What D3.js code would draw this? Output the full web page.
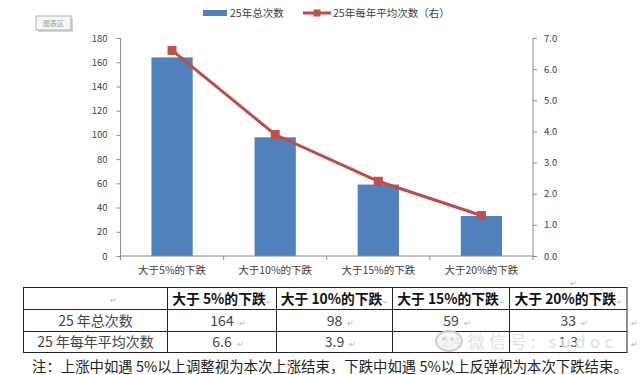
<!DOCTYPE html>
<html><head><meta charset="utf-8">
<script src="https://cdn.jsdelivr.net/npm/d3@7"></script>
<style>
html,body{margin:0;padding:0;background:#fff;}
svg{display:block;}
text{font-family:"Noto Sans CJK SC","Noto Sans",sans-serif;}
</style></head>
<body>
<svg id="c" width="640" height="375"></svg>
<script>
const categories = ["大于5%的下跌","大于10%的下跌","大于15%的下跌","大于20%的下跌"];
const totalCounts = [164, 98, 59, 33];
const yearlyAvg = [6.6, 3.9, 2.4, 1.3];
const leftTicks = [0,20,40,60,80,100,120,140,160,180];
const rightTicks = [0,1,2,3,4,5,6,7];
const seriesNames = ["25年总次数","25年每年平均次数（右）"];
const tableHeaders = ["大于 5%的下跌","大于 10%的下跌","大于 15%的下跌","大于 20%的下跌"];
const rowLabels = ["25 年总次数","25 年每年平均次数"];
const rowTotals = ["164","98","59","33"];
const rowAvgs = ["6.6","3.9","2.4","1.3"];
const note = "注：上涨中如遇 5%以上调整视为本次上涨结束，下跌中如遇 5%以上反弹视为本次下跌结束。";

const svg = d3.select("#c");
const L = 120.5, R = 533, T = 38, B = 256;
const x = d3.scaleBand().domain(categories).range([L, R]).paddingInner(0.6).paddingOuter(0.3);
const yL = d3.scaleLinear().domain([0,180]).range([B, T]);
const yR = d3.scaleLinear().domain([0,7]).range([B, T]);
const axisColor = "#8c8c8c", txt = "#404040";

// chart area tooltip box
const tip = svg.append("g");
tip.append("rect").attr("x",38).attr("y",18).attr("width",35).attr("height",14).attr("fill","#d8d8d8");
tip.append("rect").attr("x",36).attr("y",16).attr("width",35).attr("height",14).attr("fill","#f6f6f6").attr("stroke","#a0a0a0").attr("stroke-width",0.8);
tip.append("text").attr("x",53.5).attr("y",26).attr("text-anchor","middle").attr("font-size",7).attr("fill","#9a9a9a").text("图表区");

// bars
svg.append("g").selectAll("rect").data(categories).join("rect")
  .attr("x", d => x(d)).attr("width", x.bandwidth())
  .attr("y", (d,i) => yL(totalCounts[i])).attr("height", (d,i) => B - yL(totalCounts[i]))
  .attr("fill", "#4f81bd");

// axes
const ga = svg.append("g").attr("transform", `translate(${L},0)`)
  .call(d3.axisLeft(yL).tickValues(leftTicks).tickSize(4).tickPadding(9));
const gb = svg.append("g").attr("transform", `translate(${R},0)`)
  .call(d3.axisRight(yR).tickValues(rightTicks).tickFormat(d3.format(".1f")).tickSize(4).tickPadding(7));
[ga, gb].forEach(g => {
  g.select(".domain").attr("stroke", axisColor).attr("d", `M0,${T}V${B}`);
  g.selectAll(".tick line").attr("stroke", axisColor);
  g.selectAll(".tick text").attr("fill", txt).attr("font-size", 9.5).attr("font-family","'Noto Sans',sans-serif");
});

// category axis
svg.append("line").attr("x1", L).attr("x2", R).attr("y1", B).attr("y2", B).attr("stroke", axisColor);
const bounds = categories.map(c => x(c) - x.step()*x.paddingInner()/2).concat([R]);
svg.append("g").selectAll("line").data(bounds).join("line")
  .attr("x1", d => d).attr("x2", d => d).attr("y1", B).attr("y2", B+4).attr("stroke", axisColor);
svg.append("g").selectAll("text").data(categories).join("text")
  .attr("x", d => x(d) + x.bandwidth()/2).attr("y", 274).attr("text-anchor","middle")
  .attr("font-size", 10.5).attr("fill", txt).text(d => d);

// line series
const cx = d => x(d) + x.bandwidth()/2;
const line = d3.line().x((d,i) => cx(categories[i])).y(d => yR(d));
svg.append("path").datum(yearlyAvg).attr("d", line).attr("fill","none")
  .attr("stroke","#be4b48").attr("stroke-width",3);
svg.append("g").selectAll("rect").data(yearlyAvg).join("rect")
  .attr("x", (d,i) => cx(categories[i]) - 4.5).attr("y", d => yR(d) - 4.5)
  .attr("width", 9).attr("height", 9).attr("fill", "#c0504d");

// legend
const lg = svg.append("g");
lg.append("rect").attr("x",203).attr("y",10).attr("width",24).attr("height",6).attr("fill","#4f81bd");
lg.append("text").attr("x",230).attr("y",17).attr("font-size",10.5).attr("fill",txt).text(seriesNames[0]);
lg.append("line").attr("x1",303).attr("x2",331).attr("y1",13).attr("y2",13).attr("stroke","#be4b48").attr("stroke-width",3);
lg.append("rect").attr("x",313.5).attr("y",9.5).attr("width",7).attr("height",7).attr("fill","#c0504d");
lg.append("text").attr("x",333).attr("y",17).attr("font-size",10.5).attr("fill",txt).text(seriesNames[1]);

// table
const cols = [23.5, 167.5, 276.5, 392.5, 509.5, 627];
const rows = [287.5, 309.5, 331.5, 352.5];
const tb = svg.append("g");
tb.append("rect").attr("x",cols[0]).attr("y",rows[0]).attr("width",cols[5]-cols[0]).attr("height",rows[3]-rows[0])
  .attr("fill","none").attr("stroke","#222").attr("stroke-width",1);
cols.slice(1,5).forEach(c => tb.append("line").attr("x1",c).attr("x2",c).attr("y1",rows[0]).attr("y2",rows[3]).attr("stroke","#222"));
rows.slice(1,3).forEach(r => tb.append("line").attr("x1",cols[0]).attr("x2",cols[5]).attr("y1",r).attr("y2",r).attr("stroke","#222"));
const mark = (xx, yy, fs) => tb.append("text").attr("x",xx).attr("y",yy).attr("font-size",fs || 8).attr("fill","#b0b0b0").text("↵");
const afterText = (t) => { const bb = t.node().getBBox(); return bb.x + bb.width; };
mark(110, 303);
tableHeaders.forEach((h,i) => {
  const mid = (cols[i+1]+cols[i+2])/2;
  const t = tb.append("text").attr("x", mid - 3).attr("y", 304).attr("text-anchor","middle")
    .attr("font-size",13.8).attr("font-weight","bold").attr("fill","#111").text(h);
  const e = Math.min(afterText(t) + 0.5, cols[i+2] - 5);
  mark(e, 304, 6);
});
rowLabels.forEach((lab,j) => {
  const yy = j === 0 ? 326 : 347;
  tb.append("text").attr("x",(cols[0]+cols[1])/2).attr("y",yy).attr("text-anchor","middle")
    .attr("font-size",14).attr("fill","#444").text(lab);
  const vals = j === 0 ? rowTotals : rowAvgs;
  vals.forEach((v,i) => {
    const mid = (cols[i+1]+cols[i+2])/2;
    const t = tb.append("text").attr("x", mid).attr("y", yy).attr("text-anchor","middle")
      .attr("font-size",14).attr("fill","#444").attr("font-family","'Liberation Serif',serif").text(v);
    if (!(j === 1 && i >= 2)) mark(afterText(t) + 5, yy);
  });
  mark(631, yy);
});
mark(570, 286);
tb.append("text").attr("x",32).attr("y",372).attr("font-size",14.4).attr("fill","#222").text(note);

// watermark
const wm = svg.append("g").attr("opacity",0.9);
wm.append("ellipse").attr("cx",449).attr("cy",341).attr("rx",13).attr("ry",10).attr("fill","#f4f4f4").attr("stroke","#c9c9c9").attr("stroke-width",2);
wm.append("circle").attr("cx",444).attr("cy",339).attr("r",1.6).attr("fill","#c9c9c9");
wm.append("circle").attr("cx",452).attr("cy",339).attr("r",1.6).attr("fill","#c9c9c9");
wm.append("text").attr("x",468).attr("y",348).attr("font-size",16.5).attr("fill","#d0d0d0")
  .attr("textLength",145).attr("lengthAdjust","spacing")
  .attr("stroke","#f2f2f2").attr("stroke-width",0.5).text("微信号: sudoc");
</script>
</body></html>
